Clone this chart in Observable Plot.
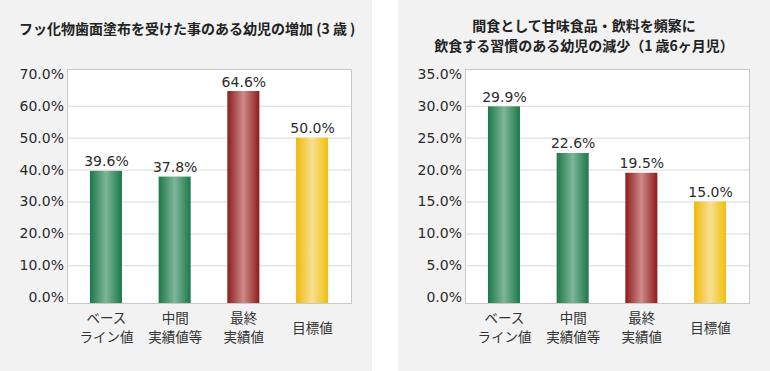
<!DOCTYPE html>
<html>
<head>
<meta charset="utf-8">
<script src="https://cdn.jsdelivr.net/npm/d3@7"></script>
<script src="https://cdn.jsdelivr.net/npm/@observablehq/plot@0.6"></script>
<style>
  body { margin: 0; background: #ffffff; width: 770px; height: 371px; overflow: hidden; position: relative; }
  .panel { position: absolute; top: 0; width: 372px; height: 371px; background: #f2f2f2; }
  .panel svg { position: absolute; left: 0; top: 0; }
  .title { position: absolute; font-family: "Noto Sans CJK JP", sans-serif; font-weight: bold; font-size: 14px; line-height: 20px; color: #222; white-space: nowrap; }
</style>
</head>
<body>
<svg width="0" height="0" style="position:absolute">
  <defs>
    <linearGradient id="grad-green" x1="0" x2="1" y1="0" y2="0">
      <stop offset="0" stop-color="#1c7849"/>
      <stop offset="0.5" stop-color="#7db699"/>
      <stop offset="1" stop-color="#1c7849"/>
    </linearGradient>
    <linearGradient id="grad-red" x1="0" x2="1" y1="0" y2="0">
      <stop offset="0" stop-color="#8d1c1c"/>
      <stop offset="0.5" stop-color="#cf8a8a"/>
      <stop offset="1" stop-color="#8d1c1c"/>
    </linearGradient>
    <linearGradient id="grad-yellow" x1="0" x2="1" y1="0" y2="0">
      <stop offset="0" stop-color="#efb90a"/>
      <stop offset="0.5" stop-color="#f7e092"/>
      <stop offset="1" stop-color="#f2bf0c"/>
    </linearGradient>
  </defs>
</svg>
<div class="panel" id="p1" style="left:0"></div>
<div class="panel" id="p2" style="left:398px"></div>
<script>
const categories = ["ベース\nライン値", "中間\n実績値等", "最終\n実績値", "目標値"];
const colorKeys = ["green", "green", "red", "yellow"];
const values1 = [39.6, 37.8, 64.6, 50.0];
const values2 = [29.9, 22.6, 19.5, 15.0];
const ticks1 = [0, 10, 20, 30, 40, 50, 60, 70];
const ticks2 = [0, 5, 10, 15, 20, 25, 30, 35];
const title1 = "フッ化物歯面塗布を受けた事のある幼児の増加 (3 歳 )";
const title2 = ["間食として甘味食品・飲料を頻繁に", "飲食する習慣のある幼児の減少（1 歳6ヶ月児）"];

function chart(values, ticks, domain) {
  const data = categories.map((c, i) => ({cat: c, value: values[i], fill: `url(#grad-${colorKeys[i]})`}));
  const grid = ticks.slice(1, -1);
  const svg = Plot.plot({
    width: 372, height: 371,
    marginLeft: 67, marginRight: 21, marginTop: 69, marginBottom: 68,
    style: {background: "transparent", fontFamily: "DejaVu Sans", fontSize: "14px", color: "#2b2b2b", overflow: "visible"},
    x: {domain: categories, paddingInner: 0.534, paddingOuter: 0.334, round: false, axis: null},
    y: {domain: domain, label: null},
    color: {type: "identity"},
    marks: [
      Plot.frame({fill: "white", stroke: "#c9c9c9"}),
      Plot.ruleY(grid, {stroke: "#d9d9d9"}),
      Plot.barY(data, {x: "cat", y1: () => domain[0], y2: "value", fill: "fill"}),
      Plot.text(data, {x: "cat", y: "value", text: d => d.value.toFixed(1) + "%", dy: -9.5, lineAnchor: "middle", fill: "#2b2b2b", fontSize: 14}),
      Plot.axisY(ticks, {tickSize: 0, tickPadding: 3.5, tickFormat: d => d.toFixed(1) + "%", fill: "#2b2b2b", fontSize: 14, label: null}),
      Plot.text(categories, {x: d => d, text: d => d, frameAnchor: "bottom", dy: 23, lineAnchor: "middle", lineHeight: 1.4, fontFamily: "Noto Sans CJK JP", fontSize: 13.5, fill: "#333"})
    ]
  });
  return svg;
}

const p1 = document.getElementById("p1");
p1.appendChild(chart(values1, ticks1, [-1.8, 71.5]));
const t1 = document.createElement("div");
t1.className = "title";
t1.style.left = "19px"; t1.style.top = "18px";
t1.textContent = title1;
p1.appendChild(t1);

const p2 = document.getElementById("p2");
p2.appendChild(chart(values2, ticks2, [-0.9, 35.75]));
const t2 = document.createElement("div");
t2.className = "title";
t2.style.left = "0"; t2.style.width = "372px"; t2.style.textAlign = "center"; t2.style.top = "15px";
t2.innerHTML = title2.join("<br>");
p2.appendChild(t2);
</script>
</body>
</html>
